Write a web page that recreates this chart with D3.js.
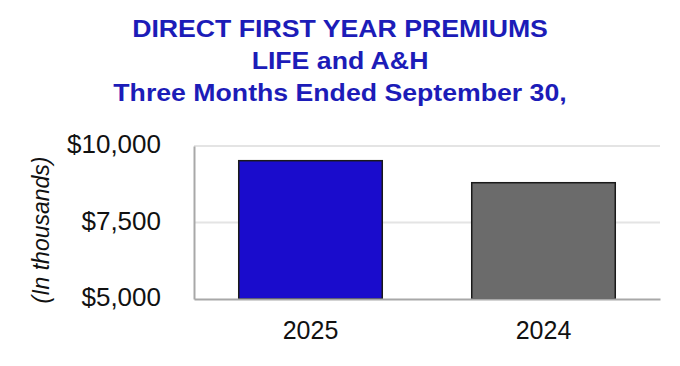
<!DOCTYPE html>
<html>
<head>
<meta charset="utf-8">
<script src="https://cdn.jsdelivr.net/npm/d3@7"></script>
<style>
  body { margin: 0; background: #fff; }
  svg { display: block; font-family: "Liberation Sans", Arial, sans-serif; }
</style>
</head>
<body>
<svg id="chart" width="680" height="366"></svg>
<script>
let years = ["2025", "2024"];
let premiums = [9520, 8800];
let barColors = ["#1a0ccc", "#6b6b6b"];
let yTicks = [5000, 7500, 10000];
let titleLines = ["DIRECT FIRST YEAR PREMIUMS", "LIFE and A&H", "Three Months Ended September 30,"];

let margin = {top: 146, right: 20, bottom: 67, left: 194};
let width = 680 - margin.left - margin.right;
let height = 366 - margin.top - margin.bottom;

let svg = d3.select("#chart");

// title (slightly wide letterforms, as in the original)
svg.append("g")
  .attr("transform", "translate(340,0) scale(1.16,1)")
  .selectAll("text")
  .data(titleLines)
  .enter()
  .append("text")
    .attr("x", 0)
    .attr("y", (d, i) => 37.5 + i * 32)
    .attr("text-anchor", "middle")
    .attr("font-size", 23)
    .attr("font-weight", "bold")
    .attr("fill", "#1c1cb8")
    .text(d => d);

let g = svg.append("g")
  .attr("transform", `translate(${margin.left},${margin.top})`);

let x = d3.scaleBand()
  .domain(years)
  .range([0, width])
  .paddingInner(0.384)
  .paddingOuter(0.192);

let y = d3.scaleLinear()
  .domain([5000, 10000])
  .range([height, 0]);

// gridlines
g.append("g")
  .selectAll("line")
  .data(yTicks.slice(1))
  .enter()
  .append("line")
    .attr("x1", 0)
    .attr("x2", width)
    .attr("y1", d => y(d))
    .attr("y2", d => y(d))
    .attr("stroke", "#e4e4e4")
    .attr("stroke-width", 2);

// bars
g.selectAll("rect")
  .data(premiums)
  .enter()
  .append("rect")
    .attr("x", (d, i) => x(years[i]))
    .attr("y", d => y(d))
    .attr("width", x.bandwidth())
    .attr("height", d => height - y(d))
    .attr("fill", (d, i) => barColors[i])
    .attr("stroke", "#1a1a1a")
    .attr("stroke-width", 1.5);

// y axis
let yAxis = g.append("g")
  .call(d3.axisLeft(y).tickValues(yTicks).tickSize(0).tickPadding(33)
    .tickFormat(d => "$" + d3.format(",")(d)));
yAxis.select(".domain").attr("stroke", "#a8a8a8").attr("stroke-width", 2);
yAxis.selectAll("text")
  .attr("font-size", 26)
  .attr("dy", "0.25em")
  .attr("fill", "#111")
  .attr("font-family", "Liberation Sans, Arial, sans-serif");

// x axis
let xAxis = g.append("g")
  .attr("transform", `translate(0,${height})`)
  .call(d3.axisBottom(x).tickSize(0).tickPadding(22));
xAxis.select(".domain").attr("stroke", "#a8a8a8").attr("stroke-width", 2);
xAxis.selectAll("text")
  .attr("font-size", 25)
  .attr("fill", "#111")
  .attr("font-family", "Liberation Sans, Arial, sans-serif");

// y label
svg.append("text")
  .attr("transform", "translate(49,230) rotate(-90)")
  .attr("text-anchor", "middle")
  .attr("font-size", 23)
  .attr("font-style", "italic")
  .attr("fill", "#111")
  .text("(In thousands)");
</script>
</body>
</html>
